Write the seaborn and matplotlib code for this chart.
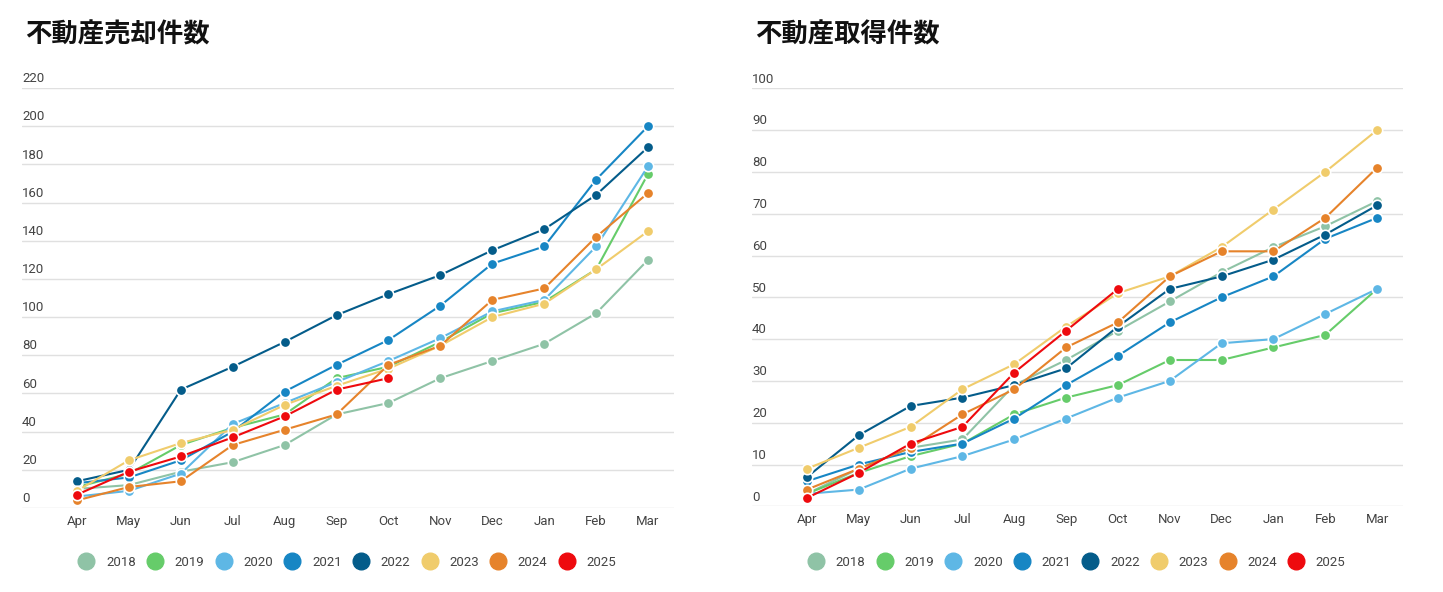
import numpy as np
import pandas as pd
import matplotlib.pyplot as plt
from matplotlib.lines import Line2D
import seaborn as sns

# === DONNEES ===
months = ["Apr", "May", "Jun", "Jul", "Aug", "Sep", "Oct", "Nov", "Dec", "Jan", "Feb", "Mar"]
years = ["2018", "2019", "2020", "2021", "2022", "2023", "2024", "2025"]
colors = ["#8fc3a6", "#66cc6a", "#5eb7e5", "#1786c4", "#045c8a", "#f0cc6c", "#e6832b", "#ee0a0e"]

title_sell = "不動産売却件数"
title_buy = "不動産取得件数"

nan = np.nan
sell_2018 = [10, 12, 19, 24, 33, 49, 55, 68, 77, 86, 102, 130]
sell_2019 = [11, 18, 33, 42, 49, 68, 74, 87, 102, 108, 125, 175]
sell_2020 = [6, 9, 18, 44, 55, 66, 77, 89, 103, 109, 137, 179]
sell_2021 = [13, 16, 25, 40, 61, 75, 88, 106, 128, 137, 172, 200]
sell_2022 = [14, 20, 62, 74, 87, 101, 112, 122, 135, 146, 164, 189]
sell_2023 = [9, 25, 34, 41, 54, 64, 73, 85, 100, 107, 125, 145]
sell_2024 = [4, 11, 14, 33, 41, 49, 75, 85, 109, 115, 142, 165]
sell_2025 = [7, 19, 27, 37, 48, 62, 68, nan, nan, nan, nan, nan]

buy_2018 = [3, 9, 14, 16, 29, 35, 42, 49, 56, 62, 67, 73]
buy_2019 = [3, 8, 12, 15, 22, 26, 29, 35, 35, 38, 41, 52]
buy_2020 = [3, 4, 9, 12, 16, 21, 26, 30, 39, 40, 46, 52]
buy_2021 = [6, 10, 13, 15, 21, 29, 36, 44, 50, 55, 64, 69]
buy_2022 = [7, 17, 24, 26, 29, 33, 43, 52, 55, 59, 65, 72]
buy_2023 = [9, 14, 19, 28, 34, 43, 51, 55, 62, 71, 80, 90]
buy_2024 = [4, 9, 14, 22, 28, 38, 44, 55, 61, 61, 69, 81]
buy_2025 = [2, 8, 15, 19, 32, 42, 52, nan, nan, nan, nan, nan]

sell = [sell_2018, sell_2019, sell_2020, sell_2021, sell_2022, sell_2023, sell_2024, sell_2025]
buy = [buy_2018, buy_2019, buy_2020, buy_2021, buy_2022, buy_2023, buy_2024, buy_2025]


def to_long(series):
    rows = []
    for y, vals in zip(years, series):
        for m, v in zip(months, vals):
            rows.append({"year": y, "month": m, "value": v})
    return pd.DataFrame(rows).dropna()


sns.set_theme(style="white")
plt.rcParams["font.family"] = ["Roboto", "Noto Sans CJK JP", "DejaVu Sans"]

TXT = "#444444"
GRID = "#e0e0e0"

fig = plt.figure(figsize=(14.43, 5.92), dpi=100)
W, H = 1443, 592

# positions en pixels: (left, bottom_y, right, top_y)
panels = [
    (22, 508, 674, 88, sell, title_sell, 220, 20),
    (752, 506.3, 1403, 88.3, buy, title_buy, 100, 10),
]

palette = dict(zip(years, colors))

for x0, yb, x1, yt, series, title, ymax, step in panels:
    ax = fig.add_axes([x0 / W, 1 - yb / H, (x1 - x0) / W, (yb - yt) / H])
    df = to_long(series)
    sns.lineplot(data=df, x="month", y="value", hue="year", palette=palette,
                 marker="o", markersize=7.5, markeredgecolor="white",
                 markeredgewidth=1.2, linewidth=1.5, legend=False, ax=ax, sort=False)

    ax.set_xlim(-1.06, 11.5)
    ax.set_ylim(0, ymax)
    ticks = np.arange(0, ymax + 1, step)
    ax.set_yticks(ticks)
    ax.set_yticklabels([])
    ax.grid(axis="y", color=GRID, linewidth=1.0)
    ax.grid(axis="x", visible=False)
    ax.set_axisbelow(True)
    for s in ax.spines.values():
        s.set_visible(False)
    ax.tick_params(axis="both", length=0)
    ax.tick_params(axis="x", pad=5, labelsize=9.5, labelcolor=TXT)
    ax.set_xlabel("")
    ax.set_ylabel("")

    # etiquettes Y au-dessus des lignes de grille
    trans = ax.get_yaxis_transform()
    for t in ticks:
        ax.annotate(str(t), xy=(0, t), xycoords=trans, xytext=(0, 2),
                    textcoords="offset points", ha="left", va="bottom",
                    fontsize=9.5, color=TXT)

    # titre
    fig.text((x0 + 3) / W, 1 - 35 / H, title, ha="left", va="center",
             fontsize=19, fontweight="bold", color="#111111",
             family=["Noto Sans CJK JP", "DejaVu Sans"])

    # legende
    handles = [Line2D([], [], marker="o", linestyle="", markersize=12,
                      markerfacecolor=c, markeredgecolor=c) for c in colors]
    leg_y = (yb - 562) / (yb - yt)
    ax.legend(handles, years, loc="center", bbox_to_anchor=(0.5, leg_y), ncol=8,
              frameon=False, fontsize=9.5, handlelength=1.0, handletextpad=1.0,
              columnspacing=0.95, labelcolor=TXT)

fig.savefig("out.png", dpi=100)
